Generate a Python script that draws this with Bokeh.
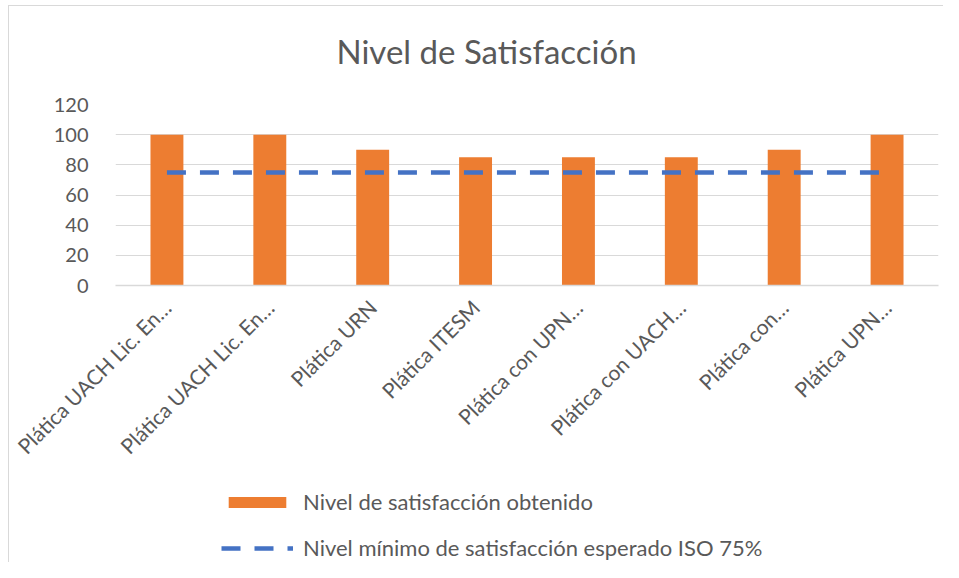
import math
from bokeh.plotting import figure
from bokeh.layouts import column
from bokeh.models import (ColumnDataSource, Range1d, FixedTicker, Legend, LegendItem, Label)
from bokeh.embed import file_html
from bokeh.resources import INLINE

title_text = "Nivel de Satisfacción"
categories = [
    "Plática UACH Lic. En…",
    "Plática UACH Lic. En…",
    "Plática URN",
    "Plática ITESM",
    "Plática con UPN…",
    "Plática con UACH…",
    "Plática con…",
    "Plática UPN…",
]
satisfaccion = [100, 100, 90, 85, 85, 85, 90, 100]
iso_minimo = [75, 75, 75, 75, 75, 75, 75, 75]
y_ticks = [0, 20, 40, 60, 80, 100, 120]
series_names = ["Nivel de satisfacción obtenido",
                "Nivel mínimo de satisfacción esperado ISO 75%"]

positions = [i + 0.5 for i in range(len(categories))]
src = ColumnDataSource(dict(x=positions, sat=satisfaccion, iso=iso_minimo))

FONT = "Lato"
GREY = "#595959"
ORANGE = "#ED7D31"
BLUE = "#4472C4"
W = 943


def blank(h):
    f = figure(width=W, height=h, output_backend="svg", toolbar_location=None,
               x_range=Range1d(0, len(categories)), y_range=Range1d(1000, 1001),
               min_border=0)
    f.axis.visible = False
    f.grid.visible = False
    f.outline_line_color = None
    f.background_fill_alpha = 0
    f.border_fill_alpha = 0
    return f


# title panel
tp = blank(92)
tp.add_layout(Label(x=221, y=42, x_units="screen", y_units="screen",
                    text=title_text, text_font=FONT, text_font_size="33px",
                    text_color=GREY, text_align="left", text_baseline="middle"))

# main chart
p = figure(width=W, height=378, output_backend="svg", toolbar_location=None,
           x_range=Range1d(0, len(categories)), y_range=Range1d(0, 120),
           min_border_left=115, min_border_right=5, min_border_top=12,
           min_border_bottom=181)
p.outline_line_color = None
p.background_fill_color = "white"
p.border_fill_alpha = 0

p.vbar(x="x", top="sat", width=0.32, bottom=0, source=src,
       fill_color=ORANGE, line_color=None)
p.line(x="x", y="iso", source=src, line_color=BLUE, line_width=4.5,
       line_dash="19 14")

p.xgrid.grid_line_color = None
p.ygrid.grid_line_color = "#D9D9D9"
p.ygrid.grid_line_width = 1
p.ygrid.ticker = FixedTicker(ticks=y_ticks)

p.yaxis.ticker = FixedTicker(ticks=y_ticks)
p.yaxis.axis_line_color = None
p.yaxis.major_tick_line_color = None
p.yaxis.minor_tick_line_color = None
p.yaxis.major_label_text_font = FONT
p.yaxis.major_label_text_font_size = "20px"
p.yaxis.major_label_text_color = GREY
p.yaxis.major_label_standoff = 21

p.xaxis.ticker = FixedTicker(ticks=positions)
p.xaxis.major_label_overrides = {pos: lab for pos, lab in zip(positions, categories)}
p.xaxis.major_label_orientation = math.pi / 4
p.xaxis.axis_line_color = "#D9D9D9"
p.xaxis.axis_line_width = 1.5
p.xaxis.major_tick_line_color = None
p.xaxis.minor_tick_line_color = None
p.xaxis.major_label_text_font = FONT
p.xaxis.major_label_text_font_size = "21px"
p.xaxis.major_label_text_color = GREY
p.xaxis.major_label_standoff = 12

# legend panel: same data, drawn outside its visible range, only the legend shows
lg = blank(92)
r_bar = lg.vbar(x="x", top="sat", width=0.32, bottom=0, source=src,
                fill_color=ORANGE, line_color=None)
r_line = lg.line(x="x", y="iso", source=src, line_color=BLUE, line_width=4.5,
                 line_dash="19 14")

legend = Legend(items=[
    LegendItem(label=series_names[0], renderers=[r_bar]),
    LegendItem(label=series_names[1], renderers=[r_line]),
], location=(106, 1), orientation="vertical")
legend.glyph_width = 72
legend.glyph_height = 14
legend.label_height = 20
legend.label_standoff = 10
legend.spacing = 19
legend.padding = 0
legend.margin = 0
legend.border_line_color = None
legend.background_fill_alpha = 0
legend.label_text_font = FONT
legend.label_text_font_size = "22px"
legend.label_text_color = GREY
lg.add_layout(legend)

layout = column(tp, p, lg, spacing=0,
                styles={"background": "linear-gradient(#d9d9d9,#d9d9d9) 8px 5px / 1px 100% no-repeat, "
                                      "linear-gradient(#d9d9d9,#d9d9d9) 8px 5px / 100% 1px no-repeat, white"})

open("out.html", "w").write(file_html(layout, INLINE))
